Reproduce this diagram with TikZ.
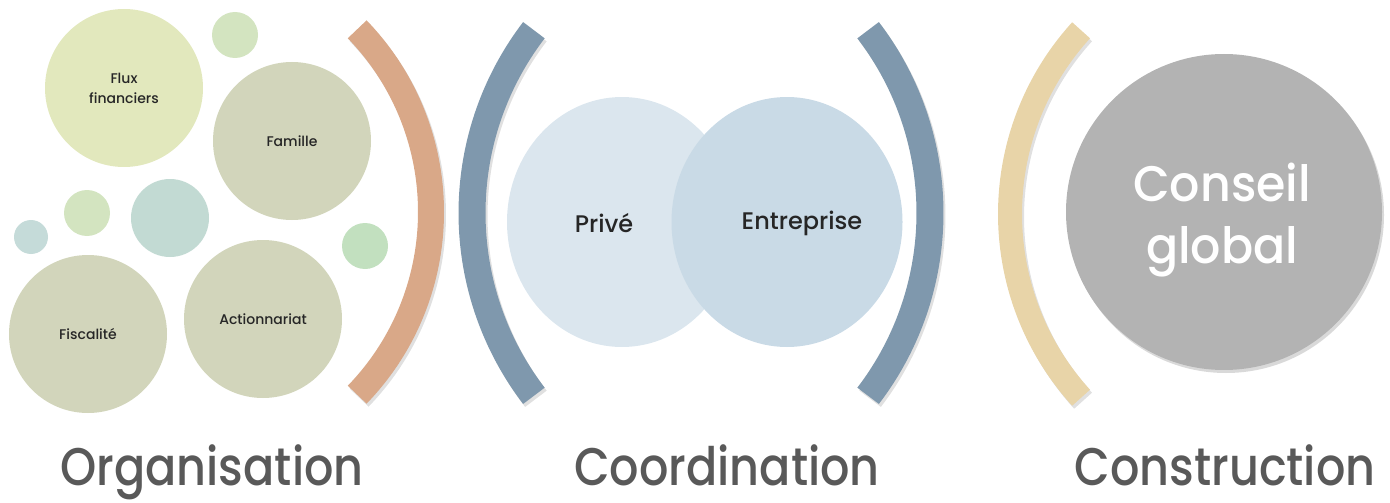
\documentclass[tikz,border=0pt]{standalone}
\usepackage{fontspec}
\setmainfont{Poppins}
\newfontfamily\pmed{Poppins Medium}
\usetikzlibrary{shapes.geometric}
\begin{document}
\begin{tikzpicture}[x=1pt,y=-1pt,
  bubble/.style={circle,inner sep=0pt,align=center,text=black!85,font=\pmed\fontsize{14}{20}\selectfont},
  big/.style={bubble,minimum size=158pt},
  band/.style={line width=#1,line cap=butt},
  shadowband/.style={line width=#1,draw=black,opacity=0.12,line cap=butt},
  label/.style={anchor=base,inner sep=0pt,text depth=0pt,text=black!65,font=\pmed\fontsize{53}{56}\selectfont,xscale=0.87}]
\definecolor{cFlux}{HTML}{E2E8BD}
\definecolor{cBig}{HTML}{D2D5BB}
\definecolor{cSmallG}{HTML}{D3E4C0}
\definecolor{cTeal}{HTML}{C2DAD3}
\definecolor{cTiny}{HTML}{C5DBD9}
\definecolor{cSmallG2}{HTML}{C2E0BF}
\definecolor{cOrange}{HTML}{D9A888}
\definecolor{cBlue}{HTML}{7F98AD}
\definecolor{cYellow}{HTML}{E8D4A8}
\definecolor{cPrive}{HTML}{DBE6EE}
\definecolor{cEntr}{HTML}{C9DAE6}
\definecolor{cConseil}{HTML}{B3B3B3}
\useasboundingbox (0,0) rectangle (1390,503);
% left cluster
\node[bubble,fill=cSmallG,minimum size=46pt] (s1) at (235,35) {};
\node[bubble,fill=cSmallG,minimum size=46pt] (s2) at (87,213) {};
\node[bubble,fill=cTiny,minimum size=34pt] (s3) at (31,237) {};
\node[bubble,fill=cTeal,minimum size=78pt] (s4) at (170,218) {};
\node[bubble,fill=cSmallG2,minimum size=46pt] (s5) at (365,246) {};
\node[big,fill=cFlux] (flux) at (124,88) {Flux\\financiers};
\node[big,fill=cBig] (famille) at (292,141) {Famille};
\node[big,fill=cBig] (fisc) at (88,334) {Fiscalité};
\node[big,fill=cBig] (action) at (263,319) {Actionnariat};
% arc centres
\coordinate (oc) at (168,212);
\coordinate (bl) at (773,213);
\coordinate (br) at (629,213);
\coordinate (yc) at (1283,214);
% shadows
\draw[shadowband=26pt] ([shift={(-44:263pt)}]oc) ++(2,3) arc[start angle=-44,end angle=44,radius=263pt];
\draw[shadowband=27pt] ([shift={(142.6:301pt)}]bl) ++(2,3) arc[start angle=142.6,end angle=217.4,radius=301pt];
\draw[shadowband=27pt] ([shift={(-37.4:301pt)}]br) ++(2,3) arc[start angle=-37.4,end angle=37.4,radius=301pt];
\draw[shadowband=24pt] ([shift={(137.7:273pt)}]yc) ++(2,3) arc[start angle=137.7,end angle=222.3,radius=273pt];
% bands
\draw[band=26pt,draw=cOrange] ([shift={(-44:263pt)}]oc) arc[start angle=-44,end angle=44,radius=263pt];
\draw[band=27pt,draw=cBlue] ([shift={(142.6:301pt)}]bl) arc[start angle=142.6,end angle=217.4,radius=301pt];
\draw[band=27pt,draw=cBlue] ([shift={(-37.4:301pt)}]br) arc[start angle=-37.4,end angle=37.4,radius=301pt];
\draw[band=24pt,draw=cYellow] ([shift={(137.7:273pt)}]yc) arc[start angle=137.7,end angle=222.3,radius=273pt];
% coordination
\node[ellipse,fill=cPrive,minimum width=230pt,minimum height=250pt,inner sep=0pt] (prive) at (622,222) {};
\node[ellipse,fill=cEntr,minimum width=231pt,minimum height=250pt,inner sep=0pt] (entr) at (787,222) {};
\node[font=\pmed\fontsize{24}{26}\selectfont,text=black!85] (tprive) at (604,223) {Privé};
\node[font=\pmed\fontsize{24}{26}\selectfont,text=black!85] (tentr) at (802,223) {Entreprise};
% conseil
\fill[black,opacity=0.15] (1226,215) circle[radius=158pt];
\node[circle,fill=cConseil,minimum size=316pt,inner sep=0pt] (conseil) at (1224,212) {};
\node[text=white,align=center,font=\pmed\fontsize{50}{62}\selectfont,xscale=0.95] (tconseil) at (1222,220) {Conseil\\global};
% labels
\node[label] (org) at (212,485) {Organisation};
\node[label] (coord) at (727,485) {Coordination};
\node[label] (constr) at (1225,485) {Construction};
\end{tikzpicture}
\end{document}
